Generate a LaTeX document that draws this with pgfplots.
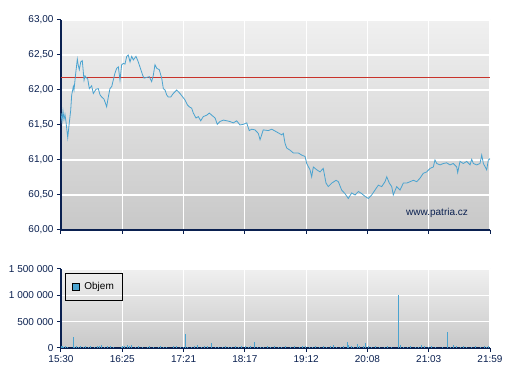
\documentclass[border=0pt]{standalone}
\usepackage{pgfplots}
\pgfplotsset{compat=1.18}
\usepackage{fontspec}
\setmainfont{Liberation Sans}
\definecolor{navy}{HTML}{0A2050}
\definecolor{lineblue}{HTML}{4AA3D0}
\definecolor{refred}{HTML}{C8322A}
\definecolor{bgtop}{HTML}{F0F0F0}
\definecolor{bgbot}{HTML}{C8C8C8}
\pgfplotsset{
  panel/.style={
    scale only axis, anchor=south west,
    width=429pt, xmin=0, xmax=389,
    xtick={0,55.5714,111.1429,166.7143,222.2857,277.8571,333.4286,389},
    grid=major, major grid style={white, line width=1.1pt},
    axis x line*=bottom, axis y line*=left,
    axis line style={navy, line width=1.2pt, -},
    tick style={navy, line width=1pt},
    tick align=outside, major tick length=4pt,
    axis background/.style={top color=bgtop, bottom color=bgbot},
    ticklabel style={navy, font=\fontsize{10}{12}\selectfont},
    clip=true,
  }
}
\begin{document}
\begin{tikzpicture}
\path[use as bounding box, fill=white] (0,0) rectangle (507pt,380pt);
% ---------- price panel ----------
\begin{axis}[panel,
  at={(61pt,150pt)}, height=210pt,
  ymin=60, ymax=63, ytick={60,60.5,61,61.5,62,62.5,63},
  xticklabels={},
  yticklabel style={/pgf/number format/.cd, fixed, fixed zerofill, precision=2, use comma, assume math mode=true},
]
\addplot[refred, line width=0.9pt] coordinates {(0,62.18) (389,62.18)};
\addplot[lineblue, line width=0.8pt] coordinates {
(0,61.67) (0.9,61.55) (1.8,61.70) (2.7,61.58) (3.6,61.65) (4.5,61.55) (6.1,61.32) (7.3,61.50)
(8.8,61.71) (9.7,61.93) (11.2,62.05) (11.8,62.00) (13.0,62.19) (14.8,62.44) (15.7,62.35)
(16.6,62.29) (17.9,62.40) (19.3,62.42) (20.9,62.14) (21.8,62.20) (22.7,62.18) (24.2,62.16)
(25.7,62.02) (27.8,62.06) (29.3,61.95) (31.7,62.01) (33.8,62.02) (35.4,61.93) (36.9,61.90)
(39.0,61.87) (41.4,61.76) (42.9,61.90) (44.4,62.02) (46.0,62.05) (47.4,62.14) (48.9,62.24)
(50.5,62.31) (52.0,62.33) (53.5,62.14) (55.0,62.36) (56.5,62.38) (58.0,62.37) (59.6,62.48)
(61.0,62.50) (62.6,62.40) (64.1,62.48) (65.6,62.43) (68.0,62.48) (70.1,62.40) (71.6,62.33)
(74.1,62.21) (75.3,62.17) (77.7,62.18) (80.1,62.19) (82.2,62.12) (83.7,62.21) (85.2,62.36)
(86.8,62.31) (89.1,62.29) (91.3,62.17) (92.8,62.02) (94.3,62.00) (95.8,61.93) (97.3,61.90)
(99.5,61.90) (101.8,61.95) (104.9,62.00) (107.9,61.95) (110.4,61.90) (112.4,61.86)
(114.5,61.79) (116.3,61.76) (118.5,61.74) (120.0,61.67) (122.4,61.60) (124.5,61.62)
(126.7,61.56) (129.0,61.62) (132.1,61.64) (134.5,61.67) (136.7,61.64) (139.7,61.60)
(141.7,61.51) (144.2,61.55) (147.2,61.57) (150.3,61.56) (153.2,61.55) (156.2,61.53)
(159.3,61.56) (162.3,61.50) (165.3,61.51) (168.4,61.53) (170.7,61.42) (172.9,61.44)
(175.9,61.43) (178.9,61.38) (180.5,61.29) (183.4,61.43) (188.0,61.42) (191.1,61.44)
(195.6,61.40) (200.1,61.36) (201.6,61.38) (203.1,61.24) (204.7,61.17) (207.7,61.14)
(210.7,61.10) (215.2,61.10) (218.3,61.07) (221.3,61.05) (222.8,60.95) (225.8,60.86)
(227.3,60.76) (228.8,60.90) (231.9,60.86) (234.9,60.83) (237.8,60.88) (240.3,60.67)
(242.4,60.62) (245.5,60.67) (249.4,60.71) (251.5,60.69) (254.5,60.57) (257.5,60.52)
(260.5,60.45) (263.6,60.53) (266.6,60.50) (269.6,60.55) (272.7,60.52) (275.7,60.48)
(278.7,60.45) (281.7,60.50) (284.7,60.57) (287.7,60.64) (290.8,60.62) (293.8,60.69)
(295.4,60.76) (297.7,60.67) (299.9,60.62) (301.3,60.50) (304.4,60.62) (307.4,60.57)
(310.4,60.67) (313.5,60.67) (316.5,60.69) (319.5,60.71) (322.6,60.69) (325.5,60.74)
(328.5,60.81) (331.6,60.83) (334.6,60.88) (337.6,60.90) (339.1,61.00) (340.7,60.95)
(343.7,60.93) (346.7,60.95) (349.7,60.96) (352.7,60.93) (355.7,60.95) (358.8,60.90)
(359.7,60.82) (361.8,60.98) (364.8,60.95) (367.9,60.98) (370.9,60.93) (372.4,61.01)
(373.9,60.95) (377.0,60.93) (379.9,60.95) (381.5,61.07) (383.0,60.95) (386.0,60.86)
(387.5,61.00) (389,61.02)
};
\node[navy, font=\fontsize{10}{12}\selectfont] at (axis cs:341,60.243) {www.patria.cz};
\end{axis}
% ---------- volume panel ----------
\begin{axis}[panel,
  at={(61pt,32pt)}, height=79pt,
  ymin=0, ymax=1500000, ytick={0,500000,1000000,1500000},
  scaled y ticks=false,
  xticklabels={15:30,16:25,17:21,18:17,19:12,20:08,21:03,21:59},
  yticklabel style={/pgf/number format/.cd, fixed, 1000 sep={\ }, assume math mode=true},
  legend style={at={(0.01,0.95)}, anchor=north west, draw=black, fill=none,
    line width=0.6pt, font=\fontsize{10}{12}\selectfont, inner xsep=6pt, inner ysep=7pt},
  legend cell align=left,
]
\addplot[ycomb, lineblue, line width=1pt, mark=none,
  legend image code/.code={\draw[fill=lineblue, draw=black, line width=0.6pt] (-2pt,-3.5pt) rectangle (5pt,3.5pt); \path (8pt,0pt);}]
coordinates {
(0.5,30000) (1.5,40000) (2.5,25000) (4,35000) (6,20000) (10.9,203000) (12,25000) (14,35000)
(16,20000) (18,30000) (20,25000) (22,35000) (25,20000) (27,30000) (30,25000) (33,40000)
(35,30000) (37,55000) (39,25000) (42,45000) (45,30000) (48,20000) (55,25000) (56,45000)
(58,35000) (60,50000) (62,40000) (64,55000) (68,20000) (70,35000) (74,25000) (78,20000)
(80,30000) (84,25000) (88,20000) (90,30000) (93,25000) (96,20000) (102,40000) (105,30000)
(108,25000) (111,20000) (112.9,266000) (115,25000) (118,20000) (121,30000) (124,55000)
(127,20000) (130,30000) (133,45000) (136.9,100000) (140,25000) (143,20000) (146,25000)
(149,30000) (152,20000) (155,25000) (158,30000) (161,20000) (164,35000) (167,40000)
(170,25000) (172,30000) (175.3,120000) (178,25000) (181,20000) (184,25000) (187,30000)
(190,20000) (194,40000) (197,25000) (200,20000) (204,45000) (208,25000) (212,30000)
(216,20000) (219,40000) (222,35000) (225,20000) (228,25000) (231,30000) (234,25000)
(238,40000) (241,25000) (244,35000) (247,50000) (250,25000) (253,20000) (256,30000)
(259.4,114000) (261,50000) (263,35000) (265,25000) (268.7,76000) (271,30000) (274,45000)
(276,95000) (279,30000) (282,25000) (285,30000) (289,25000) (293,20000) (296,30000)
(300,25000) (305.9,1000000) (308,55000) (311,25000) (314,20000) (317,30000) (321,20000)
(324,25000) (327,55000) (330,40000) (333,25000) (336,30000) (340,20000) (346,20000)
(350.3,304000) (353,25000) (356,55000) (359,30000) (362,25000) (365,30000) (368,20000)
(372,25000) (376,40000) (380,25000) (384,30000) (386,25000) (388,30000)
};
\addlegendentry{Objem}
\end{axis}
\end{tikzpicture}
\end{document}
